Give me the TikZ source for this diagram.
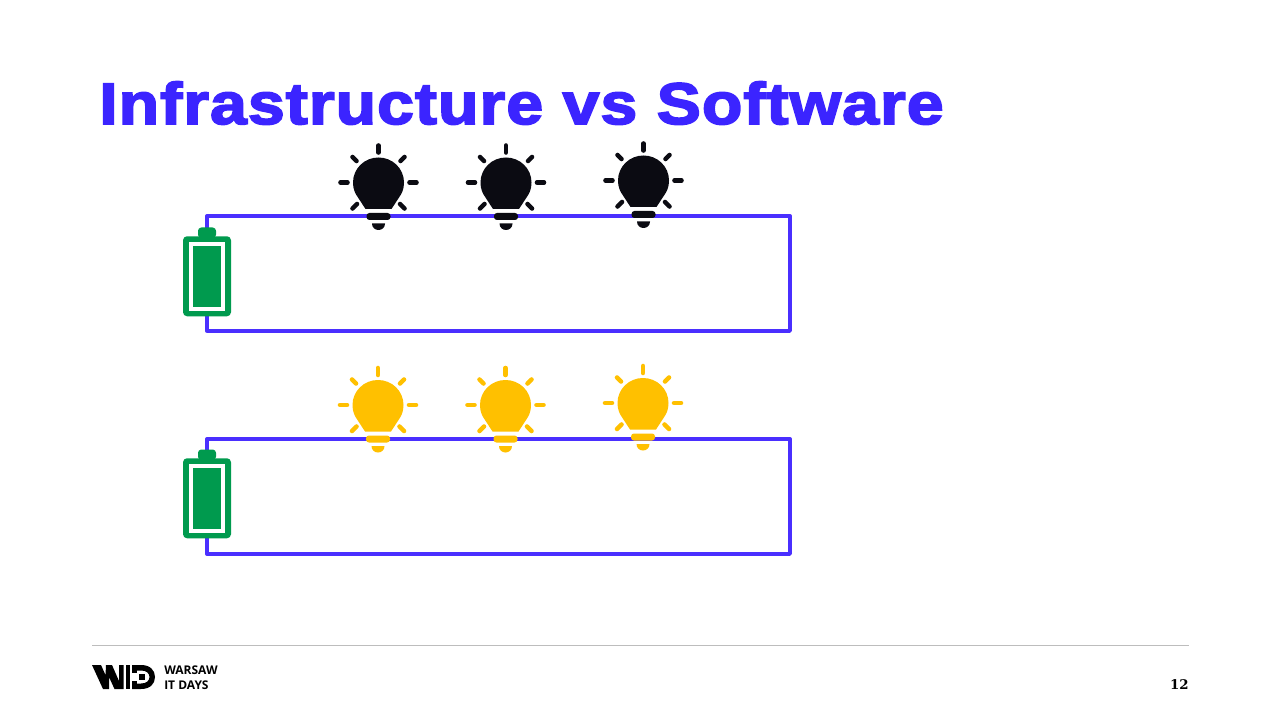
\documentclass[tikz,border=0pt]{standalone}
\usepackage{fontspec}
\setmainfont{Liberation Sans}
\newfontfamily\titlefont[FakeBold=3,FakeStretch=1.13,LetterSpace=1.7]{Liberation Sans}
\newfontfamily\serifnum{DejaVu Serif}
\newfontfamily\logofont{Open Sans}
\definecolor{wire}{HTML}{4A2FFF}
\definecolor{titleblue}{HTML}{3B24FF}
\definecolor{batgreen}{HTML}{009A4E}
\definecolor{bulbblack}{HTML}{0B0B12}
\definecolor{bulbyellow}{HTML}{FFC000}
\definecolor{rulegrey}{HTML}{BDBDBD}
\tikzset{
  x=0.75pt,y=-0.75pt,
  wireline/.style={draw=wire,line width=2.5pt,line join=round},
  ray/.style={line width=3.4pt,line cap=round},
  bulb/.pic={
    \fill (-13,26.5) -- (-20.5,15) .. controls (-23.5,11) and (-25.5,6.5) .. (-25.5,0)
      .. controls (-25.5,-14) and (-14,-25) .. (0,-25)
      .. controls (14,-25) and (25.5,-14) .. (25.5,0)
      .. controls (25.5,6.5) and (23.5,11) .. (20.5,15) -- (13,26.5) -- cycle;
    \draw[ray] (0,-37) -- (0,-30);
    \draw[ray] (-38,0) -- (-31,0);
    \draw[ray] (38,0) -- (31,0);
    \draw[ray] (-26,-25.5) -- (-22,-21.5);
    \draw[ray] (26,-25.5) -- (22,-21.5);
    \draw[ray] (-26,26) -- (-21.5,21.5);
    \draw[ray] (26,26) -- (21.5,21.5);
    \fill[rounded corners=2.2pt] (-12,30.5) rectangle (12,37.5);
    \fill (-6.5,41) -- (6.5,41) .. controls (6.5,45) and (3.5,47.5) .. (0,47.5) .. controls (-3.5,47.5) and (-6.5,45) .. (-6.5,41) -- cycle;
  },
  batbody/.style={fill=batgreen,rounded corners=3pt,minimum width=36pt,minimum height=60pt,inner sep=0pt,draw=none},
  title/.style={anchor=base west,text=titleblue,inner sep=0pt,font=\titlefont\fontsize{44pt}{44pt}\selectfont\bfseries},
  logotext/.style={anchor=base west,inner sep=0pt,font=\logofont\fontsize{9pt}{9pt}\selectfont\bfseries,text=black}
}
\newcommand{\drawbattery}[3]{%
  \fill[batgreen,rounded corners=2.5pt] (#1-9,#2-8.5) -- (#1-9,#2+2) -- (#1+9,#2+2) -- (#1+9,#2-8.5) -- cycle;
  \node[batbody,anchor=north] (#3) at (#1,#2) {};
  \fill[white] (#1-18,#2+6) rectangle (#1+18,#2+74.5);
  \fill[batgreen] (#1-14,#2+10) rectangle (#1+14,#2+70.5);
}
\begin{document}
\begin{tikzpicture}
\useasboundingbox (0,0) rectangle (1280,720);
\fill[white] (0,0) rectangle (1280,720);
\node[title] (ttl) at (99,124) {Infrastructure vs Software};
% top circuit
\coordinate (a1) at (207,216); \coordinate (a2) at (790,216);
\coordinate (a3) at (790,331); \coordinate (a4) at (207,331);
\draw[wireline] (a1) -- (a2) -- (a3) -- (a4) -- cycle;
\drawbattery{207}{236}{batA}
% bottom circuit
\coordinate (b1) at (207,439); \coordinate (b2) at (790,439);
\coordinate (b3) at (790,554); \coordinate (b4) at (207,554);
\draw[wireline] (b1) -- (b2) -- (b3) -- (b4) -- cycle;
\drawbattery{207}{458}{batB}
% bulbs
\begin{scope}[color=bulbblack]
\pic at (378.5,182.5) {bulb};
\pic at (506,182.5) {bulb};
\pic at (643.5,180.5) {bulb};
\end{scope}
\begin{scope}[color=bulbyellow]
\pic at (378,405) {bulb};
\pic at (505.5,405) {bulb};
\pic at (643,403) {bulb};
\end{scope}
% footer
\coordinate (r1) at (92,645); \coordinate (r2) at (1189,645);
\draw[rulegrey,line width=0.75pt] (r1) -- (r2);
% logo: W
\fill[black] (92,665) -- (101,665) -- (105.5,675) -- (106,665) -- (112,665) -- (119,681) -- (119,665) -- (123.5,665) -- (123.5,689) -- (114.5,689) -- (109,677) -- (109,689) -- (103,689) -- cycle;
% logo: I
\fill[black] (125.5,665) rectangle (129.5,689);
% logo: D
\fill[black] (132,665) -- (141,665) .. controls (150,665) and (155,670) .. (155,677) .. controls (155,684) and (150,689) .. (141,689) -- (132,689) -- (132,683.5) -- (141,683.5) .. controls (146,683.5) and (149.5,681) .. (149.5,677) .. controls (149.5,673) and (146,670.5) .. (141,670.5) -- (132,670.5) -- cycle;
\fill[black] (132,670) rectangle (136.5,673);
\fill[black] (132,681) rectangle (136.5,684);
\fill[black] (139,674) rectangle (145,680);
\node[logotext] (w) at (164,674.5) {WARSAW};
\node[logotext] (d) at (164,689) {IT DAYS};
\node[anchor=base east,inner sep=0pt,font=\serifnum\fontsize{10pt}{10pt}\selectfont\bfseries] (pg) at (1189,689) {12};
\end{tikzpicture}
\end{document}
